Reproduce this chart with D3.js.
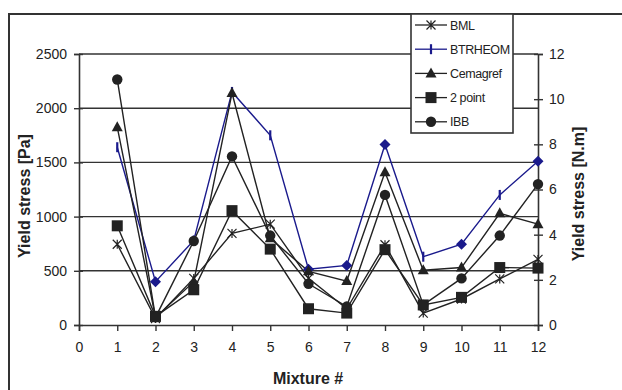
<!DOCTYPE html>
<html>
<head>
<meta charset="utf-8">
<script src="https://cdn.jsdelivr.net/npm/d3@7"></script>
<style>
  html, body { margin: 0; padding: 0; background: #fff; }
  svg text { font-family: "Liberation Sans", Arial, sans-serif; fill: #222; }
</style>
</head>
<body>
<svg id="chart" width="622" height="390"></svg>
<script>
// Yield stress per mixture, as measured by each method
const mixtures = [1, 2, 3, 4, 5, 6, 7, 8, 9, 10, 11, 12];
const bml      = [745, 60, 430, 845, 930, 430, 150, 740, 110, 240, 425, 605];
const btrheom  = [1640, 400, 780, 2150, 1750, 515, 550, 1665, 630, 745, 1200, 1510];
const cemagref = [1825, 70, 400, 2140, 800, 495, 405, 1410, 505, 530, 1030, 930];
const twoPoint = [915, 80, 325, 1055, 700, 150, 110, 695, 185, 255, 530, 525];
const ibb      = [2265, 70, 775, 1555, 825, 380, 170, 1200, 185, 430, 825, 1300];

const seriesNames = ["BML", "BTRHEOM", "Cemagref", "2 point", "IBB"];
const xTicks = d3.range(0, 13);
const yLeftTicks = [0, 500, 1000, 1500, 2000, 2500];
const yRightTicks = [0, 2, 4, 6, 8, 10, 12];

const series = [
  { name: seriesNames[0], values: bml,      color: "#222", marker: "star" },
  { name: seriesNames[1], values: btrheom,  color: "#1a1a8c", marker: "dash" },
  { name: seriesNames[2], values: cemagref, color: "#222", marker: "triangle" },
  { name: seriesNames[3], values: twoPoint, color: "#222", marker: "square" },
  { name: seriesNames[4], values: ibb,      color: "#222", marker: "circle" }
];

const svg = d3.select("#chart");
const x = d3.scaleLinear().domain([0, 12]).range([79, 538]);
const yL = d3.scaleLinear().domain([0, 2500]).range([325, 54]);
const yR = d3.scaleLinear().domain([0, 12]).range([325, 54]);

// outer frame
svg.append("rect").attr("x", 9).attr("y", 14).attr("width", 640).attr("height", 400)
  .attr("fill", "none").attr("stroke", "#333").attr("stroke-width", 2);

// horizontal gridlines
svg.append("g").selectAll("line").data(yLeftTicks.slice(1)).join("line")
  .attr("x1", x(0)).attr("x2", x(12))
  .attr("y1", d => yL(d)).attr("y2", d => yL(d))
  .attr("stroke", "#333").attr("stroke-width", 1.4);

const tickFont = sel => sel.attr("font-size", 14).attr("fill", "#222")
  .attr("font-family", "Liberation Sans, Arial, sans-serif");

// left axis
const gL = svg.append("g").attr("transform", `translate(${x(0)},0)`)
  .call(d3.axisLeft(yL).tickValues(yLeftTicks).tickSize(5).tickPadding(7).tickFormat(d3.format("d")));
gL.select(".domain").attr("stroke", "#333").attr("stroke-width", 1.6);
gL.selectAll(".tick line").attr("x1", 4).attr("stroke", "#333").attr("stroke-width", 1.4);
gL.selectAll(".tick text").call(tickFont);

// right axis
const gR = svg.append("g").attr("transform", `translate(${x(12)},0)`)
  .call(d3.axisRight(yR).tickValues(yRightTicks).tickSize(5).tickPadding(6).tickFormat(d3.format("d")));
gR.select(".domain").attr("stroke", "#333").attr("stroke-width", 1.6);
gR.selectAll(".tick line").attr("x1", -4).attr("stroke", "#333").attr("stroke-width", 1.4);
gR.selectAll(".tick text").call(tickFont);

// bottom axis
const gX = svg.append("g").attr("transform", `translate(0,${yL(0)})`)
  .call(d3.axisBottom(x).tickValues(xTicks).tickSize(6).tickPadding(11).tickFormat(d3.format("d")));
gX.select(".domain").attr("stroke", "#333").attr("stroke-width", 1.6);
gX.selectAll(".tick line").attr("stroke", "#333").attr("stroke-width", 1.4);
gX.selectAll(".tick text").call(tickFont);

// axis titles
svg.append("text").attr("transform", "translate(30,196) rotate(-90)")
  .attr("text-anchor", "middle").attr("font-size", 16).attr("font-weight", "bold")
  .text("Yield stress [Pa]");
svg.append("text").attr("transform", "translate(584,194) rotate(-90)")
  .attr("text-anchor", "middle").attr("font-size", 16).attr("font-weight", "bold")
  .text("Yield stress [N.m]");
svg.append("text").attr("x", 308).attr("y", 384)
  .attr("text-anchor", "middle").attr("font-size", 16).attr("font-weight", "bold")
  .text("Mixture #");

// marker shapes
function drawMarker(g, type, cx, cy, color) {
  if (type === "circle") {
    g.append("circle").attr("cx", cx).attr("cy", cy).attr("r", 5.2).attr("fill", color);
  } else if (type === "square") {
    g.append("rect").attr("x", cx - 5.5).attr("y", cy - 5.5).attr("width", 11).attr("height", 11).attr("fill", color);
  } else if (type === "triangle") {
    g.append("path").attr("d", `M${cx},${cy - 6}L${cx + 5.5},${cy + 4}L${cx - 5.5},${cy + 4}Z`).attr("fill", color);
  } else if (type === "diamond") {
    g.append("path").attr("d", `M${cx},${cy - 5.5}L${cx + 5.5},${cy}L${cx},${cy + 5.5}L${cx - 5.5},${cy}Z`).attr("fill", color);
  } else if (type === "dash") {
    g.append("line").attr("x1", cx).attr("x2", cx).attr("y1", cy - 5).attr("y2", cy + 5)
      .attr("stroke", color).attr("stroke-width", 2.2);
  } else if (type === "star") {
    const s = 4.5;
    g.append("path")
      .attr("d", `M${cx - s},${cy - s}L${cx + s},${cy + s}M${cx - s},${cy + s}L${cx + s},${cy - s}M${cx},${cy - s}L${cx},${cy + s}`)
      .attr("stroke", color).attr("stroke-width", 1.2).attr("fill", "none");
  }
}

// BTRHEOM points drawn with a filled diamond rather than the dash
const btrheomDiamonds = new Set([2, 6, 7, 8, 10, 12]);

const line = d3.line().x((d, i) => x(mixtures[i])).y(d => yL(d));
const plot = svg.append("g");
series.forEach(s => {
  plot.append("path").datum(s.values).attr("d", line)
    .attr("fill", "none").attr("stroke", s.color).attr("stroke-width", 1.4);
});
series.forEach(s => {
  const g = plot.append("g");
  s.values.forEach((v, i) => {
    let type = s.marker;
    if (s.name === "BTRHEOM" && btrheomDiamonds.has(mixtures[i])) type = "diamond";
    drawMarker(g, type, x(mixtures[i]), yL(v), s.color);
  });
});

// legend
const lg = svg.append("g");
lg.append("rect").attr("x", 411).attr("y", 14).attr("width", 102).attr("height", 119)
  .attr("fill", "#fff").attr("stroke", "#333").attr("stroke-width", 1.6);
series.forEach((s, i) => {
  const cy = 25 + i * 24.2;
  lg.append("line").attr("x1", 415).attr("x2", 447).attr("y1", cy).attr("y2", cy)
    .attr("stroke", s.color).attr("stroke-width", 1.3);
  drawMarker(lg, s.marker, 431, cy, s.color);
  lg.append("text").attr("x", 450).attr("y", cy + 4.5).attr("font-size", 12.5)
    .attr("letter-spacing", -0.4).text(s.name);
});
</script>
</body>
</html>
